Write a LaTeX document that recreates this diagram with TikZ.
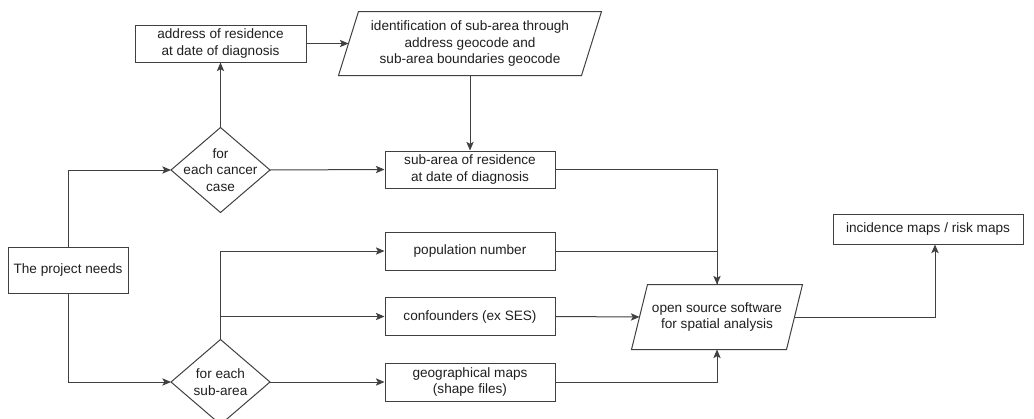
\documentclass[tikz,border=0pt]{standalone}
\usepackage{fontspec}
\setmainfont{Liberation Sans}
\usetikzlibrary{arrows.meta}
\begin{document}
\begin{tikzpicture}[x=0.75pt,y=-0.75pt,
  font=\fontsize{10.2}{12.6}\selectfont,
  line width=0.75pt,
  box/.style={draw=black!75, rectangle, align=center, inner sep=0pt, text=black!88},
  shp/.style={rectangle, align=center, inner sep=0pt, text=black!88},
  arr/.style={draw=black!75, -{Stealth[length=6.5pt,width=5.5pt,inset=1.5pt]}},
  ln/.style={draw=black!75}
]
\useasboundingbox (0,0) rectangle (1034,418);

% nodes
\node[box, minimum width=128.25pt, minimum height=27.75pt] (addr) at (220.5,43.5) {address of residence\\at date of diagnosis};
\node[shp, minimum width=181.5pt, minimum height=47.25pt] (ident) at (470,43.5) {identification of sub-area through\\address geocode and\\sub-area boundaries geocode};
\node[shp, minimum width=73.5pt, minimum height=63pt] (d1) at (220.5,170) {for\\each cancer\\case};
\node[box, minimum width=127.5pt, minimum height=27.75pt] (subres) at (470,169.5) {sub-area of residence\\at date of diagnosis};
\node[box, minimum width=90pt, minimum height=34.5pt] (proj) at (68,270) {The project needs};
\node[shp, minimum width=73.5pt, minimum height=63pt] (d2) at (220.5,382) {for each\\sub-area};
\node[box, minimum width=127.5pt, minimum height=28.5pt] (pop) at (470,251) {population number};
\node[box, minimum width=127.5pt, minimum height=28.5pt] (conf) at (470,316.5) {confounders (ex SES)};
\node[box, minimum width=127.5pt, minimum height=28.5pt] (geo) at (470,382) {geographical maps\\(shape files)};
\node[shp, minimum width=115.5pt, minimum height=48pt] (soft) at (717,317) {open source software\\for spatial analysis};
\node[box, minimum width=142.5pt, minimum height=22.5pt] (inc) at (928,229) {incidence maps / risk maps};

% shapes
\draw[ln] (d1.north) -- (d1.east) -- (d1.south) -- (d1.west) -- cycle;
\draw[ln] (d2.north) -- (d2.east) -- (d2.south) -- (d2.west) -- cycle;
\draw[ln] ([xshift=7.5pt]ident.north west) -- ([xshift=7.5pt]ident.north east)
  -- ([xshift=-7.5pt]ident.south east) -- ([xshift=-7.5pt]ident.south west) -- cycle;
\draw[ln] ([xshift=6pt]soft.north west) -- ([xshift=6pt]soft.north east)
  -- ([xshift=-6pt]soft.south east) -- ([xshift=-6pt]soft.south west) -- cycle;

% connectors
\coordinate (incin) at ([xshift=5.25pt]inc.south);
\draw[arr] (proj.north) |- (d1.west);
\draw[arr] (proj.south) |- (d2.west);
\draw[arr] (d1.north) -- (addr.south);
\draw[arr] (addr.east) -- (ident.west);
\draw[arr] (ident.south) -- (subres.north);
\draw[arr] (d1.east) -- (subres.west);
\draw[arr] (subres.east) -| (soft.north);
\draw[ln] (pop.east) -| (soft.north);
\draw[arr] (d2.north) |- (pop.west);
\draw[arr] (d2.north |- conf.west) -- (conf.west);
\draw[arr] (d2.east) -- (geo.west);
\draw[arr] (conf.east) -- (soft.west);
\draw[arr] (geo.east) -| (soft.south);
\draw[arr] (soft.east) -| (incin);
\end{tikzpicture}
\end{document}
